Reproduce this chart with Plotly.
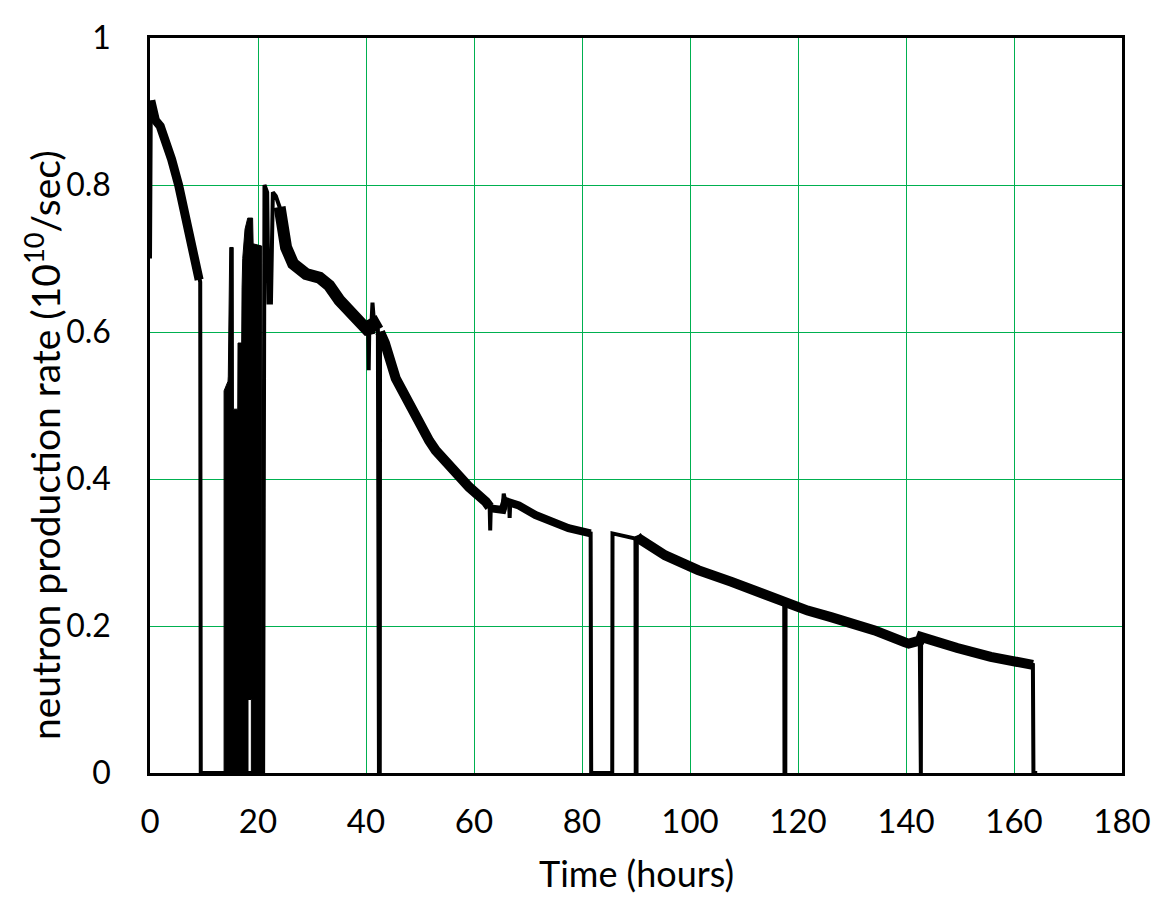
import numpy as np
import plotly.graph_objects as go

# ---------------- data ----------------
time_h = [0.0, 0.15, 0.4, 1.0, 1.9, 2.8, 4.0, 5.3, 6.5, 7.7, 8.7, 9.1, 9.3, 9.4, 13.72,
          20.95, 21.2, 21.7, 21.95, 22.4, 22.75, 23.3, 24.0, 24.4, 25.2, 26.5, 28.9,
          31.4, 33.2, 35.1, 36.9, 38.8, 40.0, 40.4, 40.5, 40.6, 41.0, 41.2, 41.5, 42.2,
          42.4, 42.55, 42.6, 43.5, 45.5, 48.6, 51.7, 52.9, 56.0, 59.1, 62.2, 62.9, 63.0,
          63.1, 64.6, 65.3, 65.5, 65.8, 66.5, 66.6, 66.7, 68.3, 71.4, 74.4, 77.5, 81.6,
          81.7, 85.6, 85.65, 89.9, 89.95, 90.1, 90.15, 90.5, 95.4, 101.5, 107.7, 112.6,
          113.8, 117.45, 117.5, 117.65, 117.7, 120.0, 121.8, 126.1, 128.0, 134.2, 139.7,
          140.5, 142.55, 142.6, 142.75, 142.8, 149.5, 155.7, 163.5, 163.6, 164.3]
rate = [0.70, 0.915, 0.900, 0.888, 0.880, 0.863, 0.835, 0.800, 0.761, 0.719, 0.685, 0.671, 0.668, 0.0, 0.0,
        0.0, 0.800, 0.790, 0.640, 0.640, 0.790, 0.785, 0.770, 0.750, 0.715, 0.693, 0.679,
        0.674, 0.663, 0.643, 0.629, 0.613, 0.606, 0.600, 0.548, 0.600, 0.610, 0.640, 0.612, 0.603,
        0.0, 0.0, 0.600, 0.585, 0.537, 0.492, 0.452, 0.439, 0.412, 0.389, 0.369, 0.362, 0.330,
        0.360, 0.360, 0.358, 0.380, 0.370, 0.368, 0.347, 0.366, 0.364, 0.351, 0.341, 0.333, 0.326,
        0.0, 0.0, 0.326, 0.319, 0.0, 0.0, 0.322, 0.319, 0.296, 0.276, 0.260, 0.246,
        0.242, 0.231, 0.0, 0.0, 0.230, 0.226, 0.221, 0.212, 0.208, 0.194, 0.178,
        0.176, 0.180, 0.0, 0.0, 0.185, 0.170, 0.158, 0.147, 0.0, 0.0]

# brief single-sample spikes (drawn thin, not part of the noise band)
spike_times = [40.5, 41.2, 63.0, 65.5, 66.6]

# dense on/off burst between ~14 and ~21 hours (outline of the blackened region)
burst_time = [13.72, 13.72, 14.45, 14.5, 14.77, 15.41, 15.45, 16.25, 16.3, 16.98, 17.05,
              17.17, 17.6, 18.1, 19.0, 19.1, 20.68, 20.68, 18.77, 18.77, 18.15, 18.15, 13.72]
burst_rate = [0.0, 0.52, 0.533, 0.54, 0.715, 0.715, 0.495, 0.495, 0.585, 0.585, 0.66,
              0.70, 0.74, 0.755, 0.755, 0.72, 0.717, 0.0, 0.0, 0.10, 0.10, 0.0, 0.0]

x_ticks = [0, 20, 40, 60, 80, 100, 120, 140, 160, 180]
y_ticks = [0, 0.2, 0.4, 0.6, 0.8, 1]
y_tick_text = ["0", "0.2", "0.4", "0.6", "0.8", "1"]

x_title = "Time (hours)"
y_title = "neutron production rate (10<sup>10</sup>/sec)"

# ---------------- figure ----------------
FONT = "Lato"
GRID = "#00B050"

fig = go.Figure()
fig.add_trace(go.Scatter(x=burst_time, y=burst_rate, mode="lines", fill="toself",
                         fillcolor="black", line=dict(color="black", width=1),
                         hoverinfo="skip"))
fig.add_trace(go.Scatter(x=time_h, y=rate, mode="lines",
                         line=dict(color="black", width=4)))

# noisy stretches of the record are drawn as a heavier band
t_arr = np.array(time_h)
r_arr = np.array(rate)
not_spike = ~np.isin(t_arr, spike_times)
bands = [(0.15, 9.2, 9), (24.0, 42.3, 12), (42.6, 62.95, 10), (63.05, 81.6, 8), (90.15, 163.5, 10)]
for a, b, w in bands:
    m = (t_arr >= a) & (t_arr <= b) & (r_arr > 0.05) & not_spike
    fig.add_trace(go.Scatter(x=t_arr[m], y=r_arr[m], mode="lines",
                             line=dict(color="black", width=w)))

# the page body adds an 8 px offset, so the figure is 8 px smaller on the left/top;
# plot area 972 x 735 keeps grid lines on whole pixels
fig.update_layout(
    width=1151, height=887,
    margin=dict(l=142, r=37, t=30, b=122),
    paper_bgcolor="white", plot_bgcolor="white",
    showlegend=False,
    font=dict(family=FONT, size=32, color="black"),
)
fig.update_xaxes(range=[0, 180], tickvals=x_ticks, showgrid=True, gridcolor=GRID,
                 gridwidth=1.4, showline=True, linecolor="black", linewidth=2.5,
                 mirror=True, ticks="", zeroline=False, ticklabelstandoff=18,
                 automargin=False,
                 tickfont=dict(family=FONT, size=33, color="black"))
fig.update_yaxes(range=[0, 1], tickvals=y_ticks, ticktext=y_tick_text, showgrid=True,
                 gridcolor=GRID, gridwidth=1.4, showline=True, linecolor="black",
                 linewidth=2.5, mirror=True, ticks="", zeroline=False,
                 automargin=False,
                 ticklabelstandoff=30, tickfont=dict(family=FONT, size=32, color="black"))

W, H = 972.0, 735.0  # plot area size in px
fig.add_annotation(text=x_title, xref="paper", yref="paper", x=0.5,
                   y=(773 - 873) / H, xanchor="center", yanchor="middle",
                   showarrow=False, font=dict(family=FONT, size=36, color="black"))
fig.add_annotation(text=y_title, xref="paper", yref="paper", x=(42 - 150) / W,
                   y=(773 - 445) / H, xanchor="center", yanchor="middle",
                   textangle=-90, showarrow=False,
                   font=dict(family=FONT, size=39, color="black"))

fig.write_html("out.html")
